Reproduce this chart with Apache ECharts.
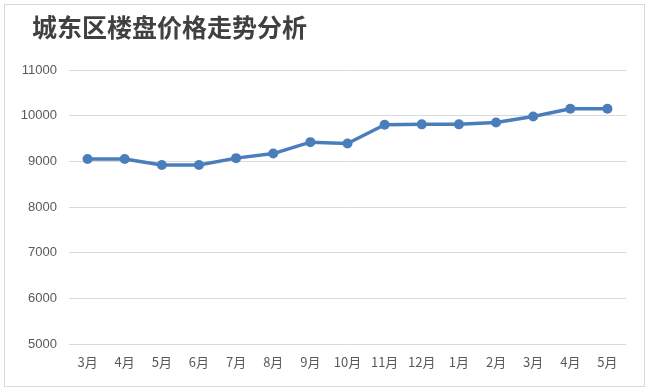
<!DOCTYPE html>
<html><head><meta charset="utf-8">
<script src="https://cdn.jsdelivr.net/npm/echarts@6/dist/echarts.min.js"></script>
<style>html,body{margin:0;padding:0;background:#fff;}#wrap{position:absolute;left:4px;top:4px;width:641px;height:383px;border:1px solid #d9d9d9;box-sizing:border-box;}#c{position:absolute;left:0;top:0;width:650px;height:392px;}</style>
</head><body><div id="wrap"></div><div id="c"></div>
<script>
const categories = ['3月','4月','5月','6月','7月','8月','9月','10月','11月','12月','1月','2月','3月','4月','5月'];
const prices = [9050, 9050, 8920, 8920, 9070, 9170, 9420, 9390, 9800, 9810, 9810, 9850, 9980, 10150, 10150];
const title = '城东区楼盘价格走势分析';
const chart = echarts.init(document.getElementById('c'));
chart.setOption({
  animation:false,
  title:{text:title,left:27,top:10,textStyle:{fontFamily:'Noto Sans CJK SC',fontSize:25,fontWeight:'bold',color:'#404040'}},
  grid:{left:69,right:24,top:70,bottom:48},
  xAxis:{type:'category',data:categories,boundaryGap:true,axisLine:{show:false},axisTick:{show:false},
    axisLabel:{color:'#595959',fontSize:13,fontFamily:'Noto Sans CJK SC',margin:12,interval:0}},
  yAxis:{type:'value',min:5000,max:11000,interval:1000,axisLine:{show:false},axisTick:{show:false},
    axisLabel:{color:'#595959',fontSize:13,fontFamily:'Liberation Sans',margin:12,formatter:v=>String(v)},
    splitLine:{lineStyle:{color:'#d9d9d9',width:1}}},
  series:[{type:'line',data:prices,symbol:'circle',symbolSize:10,
    lineStyle:{color:'#4a7ebb',width:3.5},itemStyle:{color:'#4a7ebb'}}]
});
</script></body></html>
